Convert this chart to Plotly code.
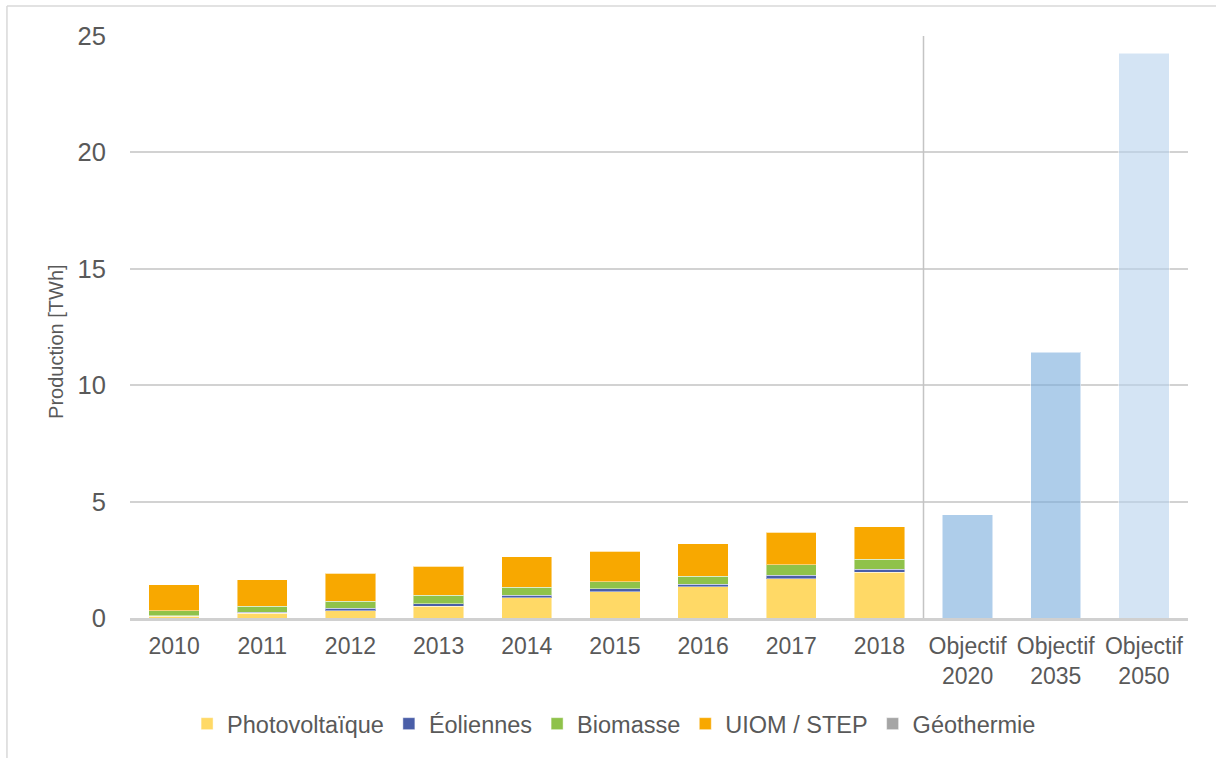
import plotly.graph_objects as go

# Production d'électricité renouvelable (TWh) par filière, et objectifs
years = ["2010", "2011", "2012", "2013", "2014", "2015", "2016", "2017", "2018"]
objectives = ["Objectif<br>2020", "Objectif<br>2035", "Objectif<br>2050"]
categories = years + objectives

photovoltaique = [0.08, 0.20, 0.31, 0.51, 0.86, 1.13, 1.34, 1.69, 1.96]
eoliennes = [0.02, 0.05, 0.10, 0.10, 0.11, 0.12, 0.12, 0.14, 0.13]
biomasse = [0.22, 0.26, 0.30, 0.36, 0.36, 0.30, 0.34, 0.45, 0.43]
uiom_step = [1.10, 1.13, 1.22, 1.26, 1.31, 1.31, 1.40, 1.40, 1.39]
geothermie = [0, 0, 0, 0, 0, 0, 0, 0, 0]
objective_values = [4.44, 11.42, 24.26]

series = [
    ("Photovoltaïque", photovoltaique, "#FFD966"),
    ("Éoliennes", eoliennes, "#4A5EA8"),
    ("Biomasse", biomasse, "#8FC24A"),
    ("UIOM / STEP", uiom_step, "#F8A800"),
    ("Géothermie", geothermie, "#A5A5A5"),
]

TEXT = "#595959"
FONT = "Liberation Sans, Arial, sans-serif"

fig = go.Figure()
for name, values, color in series:
    fig.add_trace(go.Bar(
        name=name, x=years, y=values,
        marker=dict(color=color, line=dict(color="rgba(255,255,255,0.45)", width=1)),
        width=0.57,
    ))

fig.add_trace(go.Bar(
    x=objectives, y=objective_values, showlegend=False,
    marker=dict(
        color=["rgba(120,172,220,0.6)", "rgba(120,172,220,0.6)", "rgba(183,210,237,0.6)"],
        line=dict(color="rgba(255,255,255,0.5)", width=1),
    ),
    width=0.57,
))

# separator between history and objectives
fig.add_shape(type="line", xref="x", yref="paper", x0=8.5, x1=8.5, y0=0, y1=1,
              line=dict(color="#C4C4C4", width=1.5))

# outer chart frame
fig.add_shape(type="line", xref="paper", yref="paper", x0=-0.1163, x1=1.2, y0=1.0515, y1=1.0515,
              line=dict(color="#D9D9D9", width=1.5))
fig.add_shape(type="line", xref="paper", yref="paper", x0=-0.1163, x1=-0.1163, y0=1.0515, y1=-0.4,
              line=dict(color="#D9D9D9", width=1.5))

fig.add_annotation(text="Production [TWh]", xref="paper", yref="paper", x=-0.07, y=0.476,
                   textangle=-90, showarrow=False, font=dict(size=20, color=TEXT, family=FONT),
                   xanchor="center", yanchor="middle")

fig.update_layout(
    barmode="stack",
    width=1216, height=758,
    margin=dict(l=130, r=28, t=36, b=140),
    paper_bgcolor="white", plot_bgcolor="white",
    font=dict(family=FONT, color=TEXT, size=22),
    xaxis=dict(
        categoryorder="array", categoryarray=categories,
        showline=True, linecolor="#D0D0D0", linewidth=2.5,
        ticks="outside", ticklen=6, tickcolor="rgba(0,0,0,0)",
        tickfont=dict(size=23, color=TEXT),
        showgrid=False,
    ),
    yaxis=dict(
        range=[0, 25], dtick=5, showgrid=True, gridcolor="#D2D2D2", gridwidth=1.5,
        zeroline=False, ticks="outside", ticklen=18, tickcolor="rgba(0,0,0,0)",
        tickfont=dict(size=25.5, color=TEXT),
    ),
    legend=dict(
        orientation="h", xref="container", yref="container",
        x=0.505, xanchor="center", y=0.045, yanchor="middle",
        font=dict(size=23.5, color=TEXT), traceorder="normal",
    ),
    showlegend=True,
)

fig.write_html("out.html")
